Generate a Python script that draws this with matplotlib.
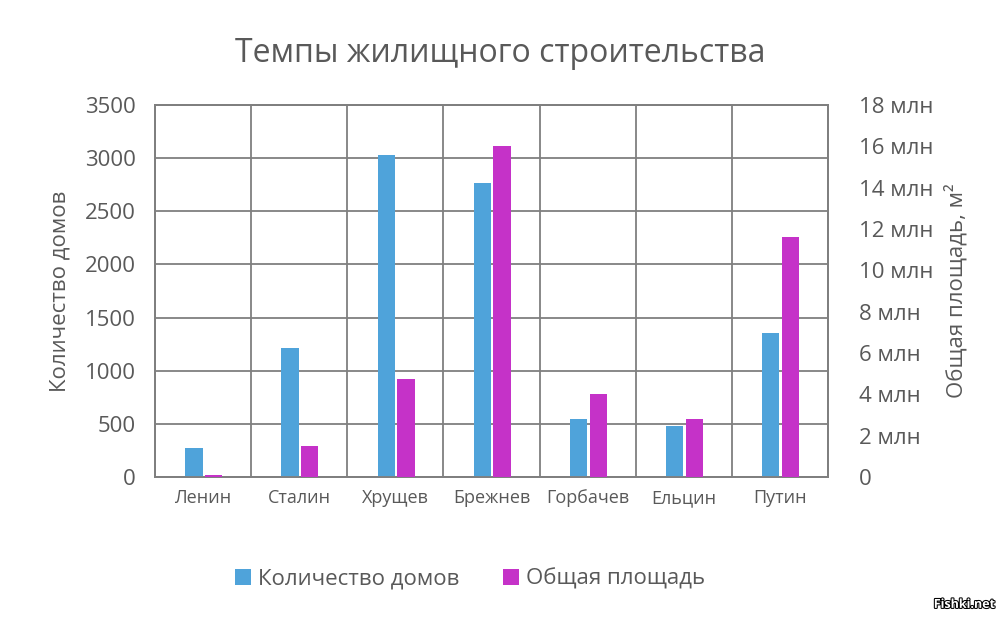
"""Темпы жилищного строительства: количество домов и общая площадь по правителям."""

import matplotlib
matplotlib.use("Agg")
import matplotlib.pyplot as plt
import matplotlib.patheffects as pe
from matplotlib.ticker import FuncFormatter, MultipleLocator
import numpy as np

# ---------------------------------------------------------------------------
# Данные
# ---------------------------------------------------------------------------

RULERS = ["Ленин", "Сталин", "Хрущев", "Брежнев", "Горбачев", "Ельцин", "Путин"]
HOUSES = [270, 1210, 3030, 2770, 550, 475, 1350]
AREA_MLN = [0.1, 1.5, 4.75, 16.0, 4.0, 2.8, 11.6]

BLUE = "#4FA3DA"
MAGENTA = "#C532C8"
GRID = "#7f7f7f"
TEXT = "#595959"

plt.rcParams["font.family"] = ["Open Sans", "DejaVu Sans"]


def main() -> None:
    fig = plt.figure(figsize=(10, 6.18), dpi=100)
    ax1 = fig.add_axes([0.155, 0.2282, 0.673, 0.602])
    ax2 = ax1.twinx()

    x = np.arange(len(RULERS))
    w = 0.18
    ax1.bar(x - 0.095, HOUSES, width=w, color=BLUE, zorder=3, label="Количество домов")
    ax2.bar(x + 0.11, AREA_MLN, width=w, color=MAGENTA, zorder=3, label="Общая площадь")

    ax1.set_xlim(-0.5, len(RULERS) - 0.5)
    ax1.set_ylim(0, 3500)
    ax2.set_ylim(0, 18)
    ax1.yaxis.set_major_locator(MultipleLocator(500))
    ax2.yaxis.set_major_locator(MultipleLocator(2))
    ax2.yaxis.set_major_formatter(
        FuncFormatter(lambda v, _: "0" if v == 0 else f"{v:.0f} млн")
    )

    ax1.set_xticks(x)
    ax1.set_xticklabels(RULERS)
    ax1.set_xticks(np.arange(len(RULERS) + 1) - 0.5, minor=True)

    ax1.grid(axis="y", color=GRID, linewidth=1.3, zorder=0)
    ax1.grid(axis="x", which="minor", color=GRID, linewidth=1.3, zorder=0)
    ax1.tick_params(axis="x", which="both", length=0, pad=9, labelsize=13, labelcolor=TEXT)
    ax1.tick_params(axis="y", length=0, pad=14, labelsize=16, labelcolor=TEXT)
    ax2.tick_params(axis="y", length=0, pad=22, labelsize=16, labelcolor=TEXT)

    for ax in (ax1, ax2):
        for sp in ax.spines.values():
            sp.set_color(GRID)
            sp.set_linewidth(1.3)
    ax1.set_axisbelow(True)

    ax1.set_ylabel("Количество домов", fontsize=16, color=TEXT, labelpad=10)
    ax2.set_ylabel("Общая площадь, м²", fontsize=16, color=TEXT, labelpad=8)

    fig.suptitle("Темпы жилищного строительства", fontsize=23, color=TEXT, y=0.94)

    h1, l1 = ax1.get_legend_handles_labels()
    h2, l2 = ax2.get_legend_handles_labels()
    fig.legend(
        h1 + h2, l1 + l2,
        loc="center", bbox_to_anchor=(0.47, 0.063), ncol=2, frameon=False,
        fontsize=16, labelcolor=TEXT, handlelength=0.7, handleheight=0.7,
        handletextpad=0.3, columnspacing=2.0,
    )

    fig.text(
        0.995, 0.022, "Fishki.net", ha="right", va="center", fontsize=9,
        fontweight="bold", color="white",
        path_effects=[pe.withStroke(linewidth=1.5, foreground="black")],
    )

    fig.savefig("out.png", dpi=100, facecolor="white")
    plt.close(fig)


if __name__ == "__main__":
    main()
